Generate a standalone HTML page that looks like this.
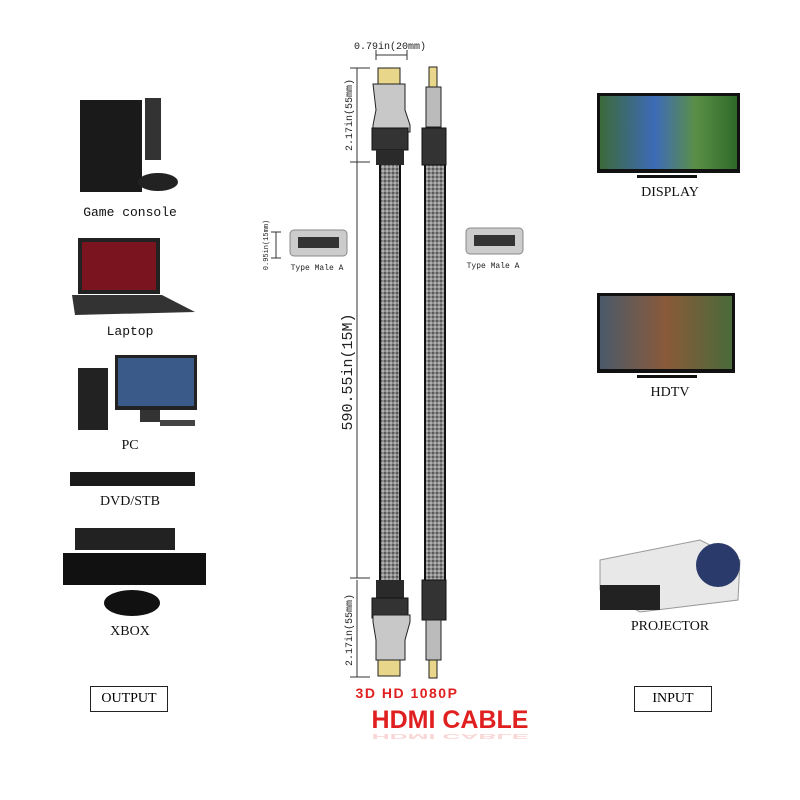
<!DOCTYPE html>
<html><head><meta charset="utf-8">
<style>
body{margin:0;width:800px;height:800px;background:#fff;position:relative;overflow:hidden;font-family:"Liberation Serif",serif;}
.l{position:absolute;font-size:14px;color:#111;text-align:center;}
.box{position:absolute;border:1.5px solid #222;font-size:14px;text-align:center;line-height:24px;}
</style></head><body>
<svg width="800" height="800" style="position:absolute;left:0;top:0">
<defs>
<pattern id="mesh" width="4" height="4" patternUnits="userSpaceOnUse">
<rect width="4" height="4" fill="#8a8a8a"/><rect width="2" height="2" fill="#5a5a5a"/><rect x="2" y="2" width="2" height="2" fill="#b0b0b0"/></pattern>
<linearGradient id="tv1" x1="0" x2="1"><stop offset="0" stop-color="#3c6a3a"/><stop offset="0.4" stop-color="#3d6bb8"/><stop offset="0.7" stop-color="#5a8f45"/><stop offset="1" stop-color="#2f6a2a"/></linearGradient>
<linearGradient id="tv2" x1="0" x2="1"><stop offset="0" stop-color="#4a5a6a"/><stop offset="0.5" stop-color="#8a5a3a"/><stop offset="1" stop-color="#4a6a3a"/></linearGradient>
</defs>
<!-- left devices -->
<rect x="80" y="100" width="62" height="92" fill="#1a1a1a"/><rect x="145" y="98" width="16" height="62" fill="#333"/>
<ellipse cx="158" cy="182" rx="20" ry="9" fill="#222"/>
<rect x="78" y="238" width="82" height="56" fill="#222"/><rect x="82" y="242" width="74" height="48" fill="#7a1520"/>
<polygon points="72,295 162,295 195,312 75,315" fill="#333"/>
<rect x="78" y="368" width="30" height="62" fill="#222"/><rect x="115" y="355" width="82" height="55" fill="#222"/><rect x="118" y="358" width="76" height="48" fill="#3a5a8a"/>
<rect x="140" y="410" width="20" height="12" fill="#333"/><rect x="160" y="420" width="35" height="6" fill="#444"/>
<rect x="70" y="472" width="125" height="14" fill="#1a1a1a"/>
<rect x="75" y="528" width="100" height="22" fill="#222"/><rect x="63" y="553" width="143" height="32" fill="#111"/>
<ellipse cx="132" cy="603" rx="28" ry="13" fill="#111"/>
<!-- right devices -->
<rect x="597" y="93" width="143" height="80" fill="#111"/><rect x="600" y="96" width="137" height="73" fill="url(#tv1)"/><rect x="637" y="175" width="60" height="3" fill="#111"/>
<rect x="597" y="293" width="138" height="80" fill="#111"/><rect x="600" y="296" width="132" height="73" fill="url(#tv2)"/><rect x="637" y="375" width="60" height="3" fill="#111"/>
<polygon points="600,560 700,540 740,560 738,600 640,612 600,590" fill="#e8e8e8" stroke="#999"/>
<ellipse cx="718" cy="565" rx="22" ry="22" fill="#2a3a6a"/><rect x="600" y="585" width="60" height="25" fill="#222"/>
<!-- dimension lines -->
<g stroke="#333" stroke-width="1" fill="none">
<line x1="376" y1="55" x2="407" y2="55"/><line x1="376" y1="50" x2="376" y2="60"/><line x1="407" y1="50" x2="407" y2="60"/>
<line x1="357" y1="68" x2="357" y2="165"/><line x1="350" y1="68" x2="370" y2="68"/><line x1="350" y1="162" x2="370" y2="162"/>
<line x1="357" y1="165" x2="357" y2="578"/><line x1="350" y1="578" x2="370" y2="578"/>
<line x1="357" y1="580" x2="357" y2="677"/><line x1="350" y1="677" x2="370" y2="677"/>
<line x1="276" y1="232" x2="276" y2="258"/><line x1="271" y1="232" x2="281" y2="232"/><line x1="271" y1="258" x2="281" y2="258"/>
</g>
<!-- cables -->
<rect x="380" y="160" width="20" height="425" fill="url(#mesh)" stroke="#111" stroke-width="2"/>
<rect x="425" y="160" width="20" height="425" fill="url(#mesh)" stroke="#111" stroke-width="2"/>
<rect x="378" y="68" width="22" height="16" fill="#e8d68a" stroke="#222"/>
<path d="M373,84 L405,84 L405,110 L410,125 L410,132 L373,132 L373,125 L376,110 Z" fill="#c8c8c8" stroke="#222"/>
<rect x="372" y="128" width="36" height="22" fill="#333" stroke="#111"/><rect x="376" y="150" width="28" height="15" fill="#2a2a2a"/>
<rect x="429" y="67" width="8" height="20" fill="#e8d68a" stroke="#222"/>
<rect x="426" y="87" width="15" height="40" fill="#bbb" stroke="#222"/>
<rect x="422" y="128" width="24" height="37" fill="#333" stroke="#111"/>
<rect x="376" y="580" width="28" height="18" fill="#2a2a2a"/><rect x="372" y="598" width="36" height="20" fill="#333" stroke="#111"/>
<path d="M373,615 L410,615 L410,622 L405,640 L405,660 L376,660 L376,640 L373,622 Z" fill="#c8c8c8" stroke="#222"/>
<rect x="378" y="660" width="22" height="16" fill="#e8d68a" stroke="#222"/>
<rect x="422" y="580" width="24" height="40" fill="#333" stroke="#111"/>
<rect x="426" y="620" width="15" height="40" fill="#bbb" stroke="#222"/>
<rect x="429" y="660" width="8" height="18" fill="#e8d68a" stroke="#222"/>
<rect x="290" y="230" width="57" height="26" rx="4" fill="#ccc" stroke="#888"/><rect x="298" y="237" width="41" height="11" fill="#333"/>
<rect x="466" y="228" width="57" height="26" rx="4" fill="#ccc" stroke="#888"/><rect x="474" y="235" width="41" height="11" fill="#333"/>
<g font-family="Liberation Mono, monospace" fill="#222">
<text x="390" y="49" font-size="10" text-anchor="middle">0.79in(20mm)</text>
<text transform="translate(352,115) rotate(-90)" font-size="10" text-anchor="middle">2.17in(55mm)</text>
<text transform="translate(352,630) rotate(-90)" font-size="10" text-anchor="middle">2.17in(55mm)</text>
<text transform="translate(352,372) rotate(-90)" font-size="15" text-anchor="middle">590.55in(15M)</text>
<text transform="translate(268,245) rotate(-90)" font-size="7" text-anchor="middle">0.95in(15mm)</text>
<text x="317" y="270" font-size="8" text-anchor="middle">Type Male A</text>
<text x="493" y="268" font-size="8" text-anchor="middle">Type Male A</text>
</g>
<text x="407" y="698" font-family="Liberation Sans, sans-serif" font-weight="bold" font-size="14" fill="#e02020" text-anchor="middle" letter-spacing="1.5">3D  HD 1080P</text>
<text x="450" y="728" font-family="Liberation Sans, sans-serif" font-weight="bold" font-size="25" fill="#e02020" text-anchor="middle">HDMI CABLE</text>
<text x="450" y="734" font-family="Liberation Sans, sans-serif" font-weight="bold" font-size="25" fill="#f4b0b0" text-anchor="middle" transform="scale(1,-0.3) translate(0,-3180)" opacity="0.5">HDMI CABLE</text>
</svg>
<div class="l" style="left:60px;top:205px;width:140px;font-family:'Liberation Mono',monospace;font-size:13px">Game console</div>
<div class="l" style="left:70px;top:324px;width:120px;font-family:'Liberation Mono',monospace;font-size:13px">Laptop</div>
<div class="l" style="left:90px;top:438px;width:80px">PC</div>
<div class="l" style="left:80px;top:494px;width:100px">DVD/STB</div>
<div class="l" style="left:90px;top:624px;width:80px">XBOX</div>
<div class="l" style="left:610px;top:185px;width:120px">DISPLAY</div>
<div class="l" style="left:610px;top:385px;width:120px">HDTV</div>
<div class="l" style="left:610px;top:619px;width:120px">PROJECTOR</div>
<div class="box" style="left:90px;top:686px;width:76px;height:24px">OUTPUT</div>
<div class="box" style="left:634px;top:686px;width:76px;height:24px">INPUT</div>
</body></html>
